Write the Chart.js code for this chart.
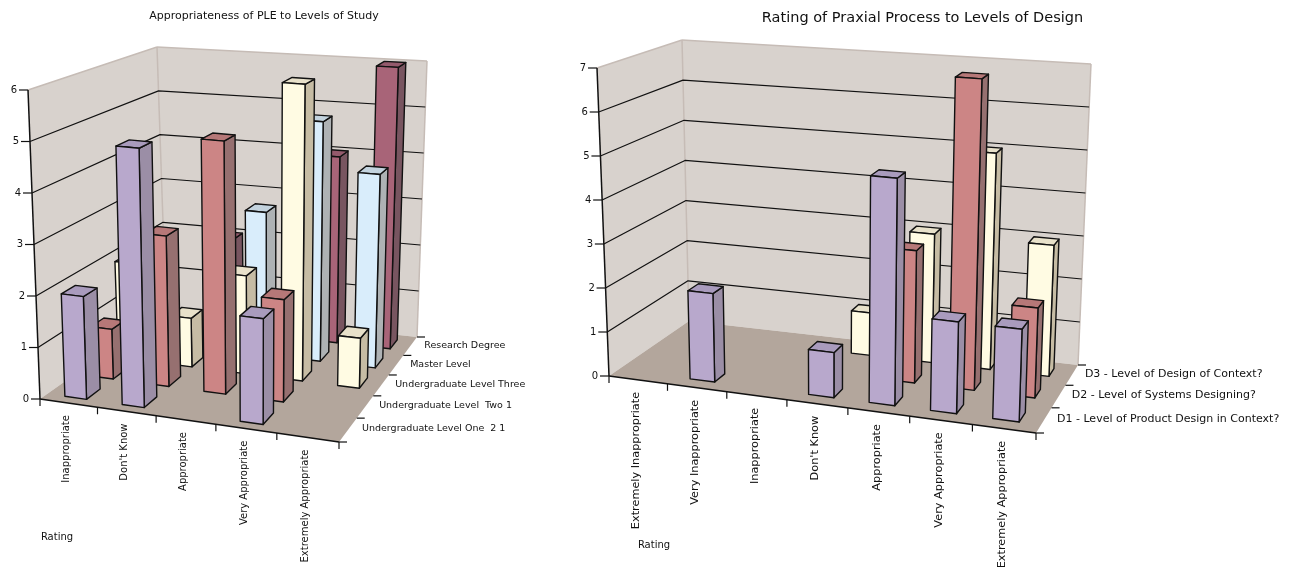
<!DOCTYPE html>
<html lang="en">
<head>
  <meta charset="UTF-8">
  <title>Rating charts</title>
  <script src="https://cdn.jsdelivr.net/npm/chart.js"></script>
  <style>
    html, body { margin: 0; padding: 0; background: #fff; overflow: hidden; }
    canvas { position: absolute; top: 0; }
    #studyChart { left: 0; }
    #designChart { left: 560px; }
  </style>
</head>
<body>
  <canvas id="studyChart" width="528" height="567"></canvas>
  <canvas id="designChart" width="725" height="567"></canvas>

  <script>
    // left chart
    const studyRatings = ['Inappropriate', "Don't Know", 'Appropriate', 'Very Appropriate', 'Extremely Appropriate'];
    const studyLevels = ['Undergraduate Level One  2 1', 'Undergraduate Level  Two 1', 'Undergraduate Level Three', 'Master Level', 'Research Degree'];
    const levelOne = [2, 5, 0, 2, 0];
    const levelTwo = [1, 3, 5, 2, 0];
    const levelThree = [2, 1, 2, 6, 1];
    const masterLevel = [0, 0, 3, 5, 4];
    const researchDegree = [0, 2, 0, 4, 6];

    // right chart
    const designRatings = ['Extremely Inappropriate', 'Very Inappropriate', 'Inappropriate', "Don't Know", 'Appropriate', 'Very Appropriate', 'Extremely Appropriate'];
    const designLevels = ['D1 - Level of Product Design in Context?', 'D2 - Level of Systems Designing?', 'D3 - Level of Design of Context?'];
    const productDesign = [0, 2, 0, 1, 5, 2, 2];
    const systemsDesign = [0, 0, 0, 0, 3, 7, 2];
    const contextDesign = [0, 0, 0, 1, 3, 5, 3];

    const LILAC = { front: '#b8a8cc', side: '#9b8ea6', top: '#a99bbd' };
    const SALMON = { front: '#cc8585', side: '#967070', top: '#b67878' };
    const CREAM = { front: '#fffbe3', side: '#c6bca4', top: '#e8e1ca' };
    const BLUE = { front: '#d9edfb', side: '#aeb2b4', top: '#c3d3de' };
    const MAUVE = { front: '#a86478', side: '#785560', top: '#945a6c' };

    const WALL = '#d8d2cd';
    const WALL_EDGE = '#c6bcb6';
    const FLOOR = '#b3a69c';
    const INK = '#111';

    function mix(a, b, t) {
      return [a[0] + (b[0] - a[0]) * t, a[1] + (b[1] - a[1]) * t];
    }

    // r bends the spacing along an axis so the far end looks further away
    function bend(f, r) {
      return f / (f + (1 - f) * r);
    }

    // draws the bars chart.js laid out on its flat scales inside a perspective box
    function boxPlugin(box) {
      return {
        id: 'box3d',
        beforeDatasetsDraw(chart) {
          const ctx = chart.ctx;
          const xs = chart.scales.x, ys = chart.scales.y, zs = chart.scales.z;

          const project = (xf, yf, zf) => {
            const u = bend(xf, box.xBend), w = bend(zf, box.zBend);
            const bottom = mix(mix(box.frontLeft, box.frontRight, u), mix(box.backLeft, box.backRight, u), w);
            const top = mix(mix(box.frontLeftTop, box.frontRightTop, u), mix(box.backLeftTop, box.backRightTop, u), w);
            return mix(bottom, top, yf);
          };
          const fx = px => (px - xs.left) / xs.width;
          const fy = px => (ys.bottom - px) / ys.height;
          const fz = px => (px - zs.left) / zs.width;

          const poly = (pts, fill, stroke, lw) => {
            ctx.beginPath();
            pts.forEach((p, i) => i ? ctx.lineTo(p[0], p[1]) : ctx.moveTo(p[0], p[1]));
            ctx.closePath();
            if (fill) { ctx.fillStyle = fill; ctx.fill(); }
            if (stroke) { ctx.strokeStyle = stroke; ctx.lineWidth = lw; ctx.stroke(); }
          };
          const line = (a, b, color, lw) => {
            ctx.beginPath();
            ctx.moveTo(a[0], a[1]);
            ctx.lineTo(b[0], b[1]);
            ctx.strokeStyle = color;
            ctx.lineWidth = lw;
            ctx.stroke();
          };

          ctx.save();
          ctx.lineJoin = 'round';

          // walls and floor
          poly([project(0, 0, 0), project(0, 1, 0), project(0, 1, 1), project(0, 0, 1)], WALL);
          poly([project(0, 0, 1), project(0, 1, 1), project(1, 1, 1), project(1, 0, 1)], WALL);
          poly([project(0, 0, 0), project(1, 0, 0), project(1, 0, 1), project(0, 0, 1)], FLOOR);
          line(project(0, 1, 0), project(0, 1, 1), WALL_EDGE, 1.5);
          line(project(0, 1, 1), project(1, 1, 1), WALL_EDGE, 1.5);
          line(project(0, 0, 1), project(0, 1, 1), WALL_EDGE, 1.5);
          line(project(1, 0, 1), project(1, 1, 1), WALL_EDGE, 1.5);

          // value grid and ticks
          ctx.font = box.tickFont;
          ctx.fillStyle = INK;
          ctx.textAlign = 'center';
          ctx.textBaseline = 'middle';
          ys.ticks.forEach(t => {
            const yf = fy(ys.getPixelForValue(t.value));
            const a = project(0, yf, 0);
            if (t.value > 0 && t.value < ys.max) {
              ctx.beginPath();
              ctx.moveTo(a[0], a[1]);
              const b = project(0, yf, 1), c = project(1, yf, 1);
              ctx.lineTo(b[0], b[1]);
              ctx.lineTo(c[0], c[1]);
              ctx.strokeStyle = INK;
              ctx.lineWidth = 1.2;
              ctx.stroke();
            }
            line([a[0] - 9, a[1]], a, INK, 1.2);
            ctx.fillStyle = INK;
            ctx.fillText(String(t.value), a[0] - 14, a[1]);
          });

          // bars, back row first
          for (let k = chart.data.datasets.length - 1; k >= 0; k--) {
            const ds = chart.data.datasets[k];
            const meta = chart.getDatasetMeta(k);
            const zc = fz(zs.getPixelForValue(k));
            const zh = box.barDepth / chart.data.datasets.length / 2;
            meta.data.forEach((el, i) => {
              if (!ds.data[i]) return;
              const x0 = fx(el.x - el.width / 2) + box.barNudge, x1 = fx(el.x + el.width / 2) + box.barNudge;
              const y0 = fy(el.base), y1 = fy(el.y);
              const z0 = zc - zh, z1 = zc + zh;
              poly([project(x1, y0, z0), project(x1, y0, z1), project(x1, y1, z1), project(x1, y1, z0)], ds.sideColor, INK, 1.4);
              poly([project(x0, y1, z0), project(x1, y1, z0), project(x1, y1, z1), project(x0, y1, z1)], ds.topColor, INK, 1.4);
              poly([project(x0, y0, z0), project(x1, y0, z0), project(x1, y1, z0), project(x0, y1, z0)], ds.backgroundColor, INK, 1.4);
            });
          }

          // axis lines
          line(project(0, 0, 0), project(0, 1, 0), INK, 1.5);
          line(project(0, 0, 0), project(1, 0, 0), INK, 1.5);

          // category ticks and labels
          const slot = xs.width / chart.data.labels.length;
          for (let i = 0; i <= chart.data.labels.length; i++) {
            const p = project(fx(xs.left + slot * i), 0, 0);
            line(p, [p[0], p[1] + 7], INK, 1.2);
          }
          ctx.font = box.labelFont;
          ctx.fillStyle = INK;
          chart.data.labels.forEach((label, i) => {
            const p = project(fx(xs.getPixelForValue(i)), 0, 0);
            ctx.save();
            ctx.translate(p[0] - 2, p[1] + 12);
            ctx.rotate(-Math.PI / 2);
            ctx.textAlign = 'right';
            ctx.textBaseline = 'middle';
            ctx.fillText(label, 0, 0);
            ctx.restore();
          });

          // depth ticks and labels
          const rows = zs.options.labels;
          const rowSlot = zs.width / rows.length;
          for (let k = 0; k <= rows.length; k++) {
            const p = project(1, 0, fz(zs.left + rowSlot * k));
            line(p, [p[0] + 8, p[1]], INK, 1.2);
          }
          ctx.font = box.rowFont;
          ctx.textAlign = 'left';
          ctx.textBaseline = 'middle';
          rows.forEach((label, k) => {
            const p = project(1, 0, fz(zs.getPixelForValue(k)));
            ctx.fillText(label, p[0] + box.rowGap, p[1] - 1);
          });

          // axis name
          ctx.font = box.tickFont;
          ctx.textAlign = 'center';
          ctx.fillText(box.axisName, box.axisNameAt[0], box.axisNameAt[1]);

          ctx.restore();
          return false;
        }
      };
    }

    function makeChart(id, title, titleFont, ratings, levels, series, maxValue, box) {
      new Chart(document.getElementById(id), {
        type: 'bar',
        data: {
          labels: ratings,
          datasets: series.map(s => ({
            label: s.label,
            data: s.data,
            backgroundColor: s.color.front,
            sideColor: s.color.side,
            topColor: s.color.top,
            grouped: false,
            categoryPercentage: 1,
            barPercentage: box.barWidth
          }))
        },
        options: {
          responsive: false,
          animation: false,
          devicePixelRatio: 1,
          plugins: {
            legend: { display: false },
            tooltip: { enabled: false },
            title: {
              display: true,
              text: title,
              color: INK,
              font: titleFont,
              padding: { top: 10, bottom: 4 }
            }
          },
          scales: {
            x: { display: false },
            y: { display: false, min: 0, max: maxValue, ticks: { stepSize: 1 } },
            z: { type: 'category', axis: 'x', position: 'bottom', display: false, labels: levels, offset: true }
          }
        },
        plugins: [boxPlugin(box)]
      });
    }

    makeChart('studyChart', 'Appropriateness of PLE to Levels of Study',
      { family: 'DejaVu Sans', size: 11, weight: 'normal' },
      studyRatings, studyLevels,
      [
        { label: studyLevels[0], data: levelOne, color: LILAC },
        { label: studyLevels[1], data: levelTwo, color: SALMON },
        { label: studyLevels[2], data: levelThree, color: CREAM },
        { label: studyLevels[3], data: masterLevel, color: BLUE },
        { label: studyLevels[4], data: researchDegree, color: MAUVE }
      ], 6,
      {
        frontLeft: [40, 399], frontRight: [339, 442], backLeft: [166, 310], backRight: [417, 337],
        frontLeftTop: [28, 90], frontRightTop: [344, 118], backLeftTop: [157, 47], backRightTop: [427, 61],
        xBend: 1.05, zBend: 0.85, barWidth: 0.38, barDepth: 0.5, barNudge: 0,
        tickFont: '10px "DejaVu Sans"', labelFont: '10px "DejaVu Sans"', rowFont: '9.5px "DejaVu Sans"', rowGap: 14,
        axisName: 'Rating', axisNameAt: [57, 537]
      });

    makeChart('designChart', 'Rating of Praxial Process to Levels of Design',
      { family: 'DejaVu Sans', size: 14.5, weight: 'normal' },
      designRatings, designLevels,
      [
        { label: designLevels[0], data: productDesign, color: LILAC },
        { label: designLevels[1], data: systemsDesign, color: SALMON },
        { label: designLevels[2], data: contextDesign, color: CREAM }
      ], 7,
      {
        frontLeft: [49, 376], frontRight: [476, 433], backLeft: [129, 321], backRight: [518, 365],
        frontLeftTop: [37, 68], frontRightTop: [487, 104], backLeftTop: [122, 40], backRightTop: [531, 64],
        xBend: 1.05, zBend: 0.85, barWidth: 0.42, barDepth: 0.38, barNudge: -0.008,
        tickFont: '10px "DejaVu Sans"', labelFont: '11.3px "DejaVu Sans"', rowFont: '11px "DejaVu Sans"', rowGap: 13,
        axisName: 'Rating', axisNameAt: [94, 545]
      });
  </script>
</body>
</html>
